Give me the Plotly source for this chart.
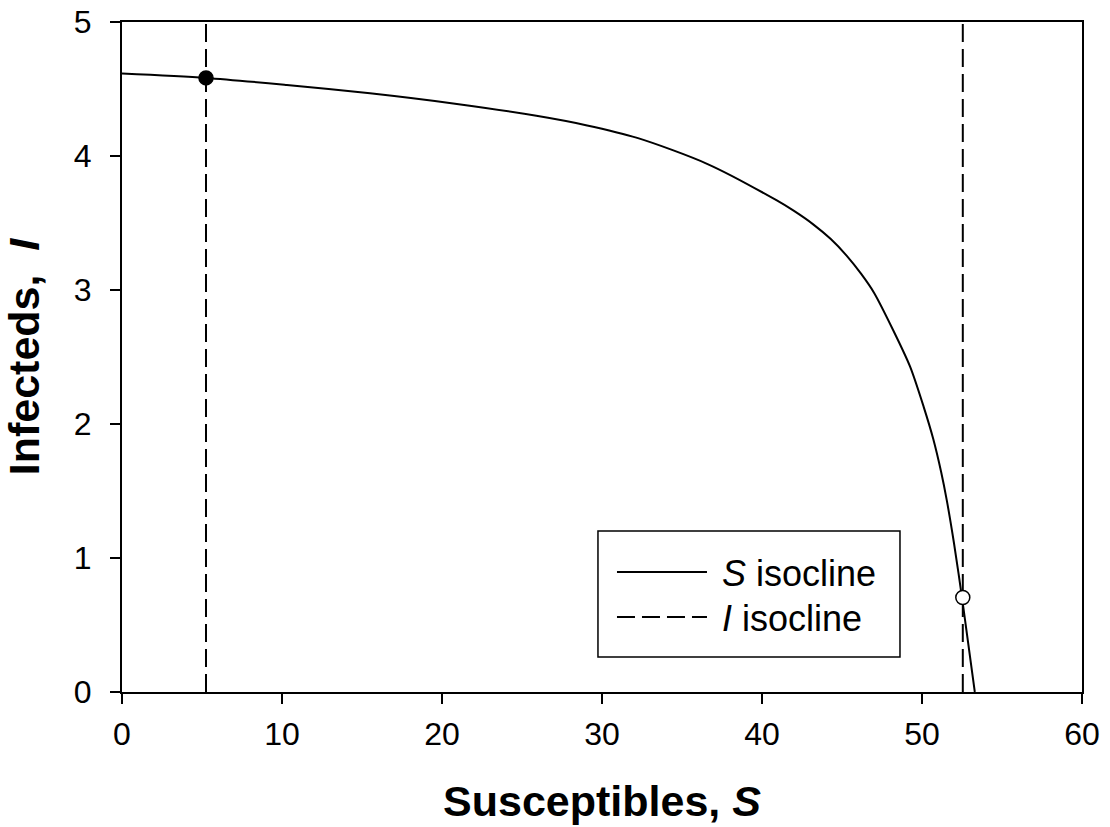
import plotly.graph_objects as go

# S isocline
s_iso_S = [0, 5.25, 10.3, 15.5, 20.7, 25.9, 29.0, 32.2, 36.6, 40.9, 42.0, 43.2, 44.3, 45.3, 46.2,
           47.0, 48.2, 49.25, 50.1, 50.7, 51.2, 51.55, 52.0, 52.5, 53.3]
s_iso_I = [4.616, 4.583, 4.53, 4.468, 4.392, 4.30, 4.23, 4.135, 3.94, 3.67, 3.59, 3.49, 3.38, 3.255, 3.12,
           2.98, 2.70, 2.43, 2.13, 1.89, 1.64, 1.43, 1.11, 0.705, 0.0]

# I isocline positions (vertical lines)
i_iso_S = [5.25, 52.55]
i_range = [0, 5]

# equilibria
stable_S, stable_I = [5.25], [4.583]
unstable_S, unstable_I = [52.55], [0.705]

x_ticks = [0, 10, 20, 30, 40, 50, 60]
y_ticks = [0, 1, 2, 3, 4, 5]

FONT = "Liberation Sans, Arial, sans-serif"
NB = "\u00a0"

fig = go.Figure()
fig.add_trace(go.Scatter(x=s_iso_S, y=s_iso_I, mode="lines", name=NB + "<i>S</i> isocline",
                         legend="legend",
                         line=dict(color="black", width=2, shape="spline", smoothing=0.8)))
for k, s in enumerate(i_iso_S):
    fig.add_trace(go.Scatter(x=[s, s], y=i_range, mode="lines", name=NB + "<i>I</i> isocline",
                             showlegend=(k == 0), legend="legend2",
                             line=dict(color="black", width=2, dash="18px,7px")))
fig.add_trace(go.Scatter(x=stable_S, y=stable_I, mode="markers", showlegend=False, cliponaxis=False,
                         marker=dict(size=14, color="black", line=dict(color="black", width=1.5))))
fig.add_trace(go.Scatter(x=unstable_S, y=unstable_I, mode="markers", showlegend=False, cliponaxis=False,
                         marker=dict(size=14, color="white", line=dict(color="black", width=1.5))))

axis_common = dict(showline=True, linecolor="black", linewidth=2, mirror=True,
                   ticks="outside", ticklen=10, tickwidth=2, tickcolor="black",
                   showgrid=False, zeroline=False, automargin=False,
                   tickfont=dict(family=FONT, size=32, color="black"))

fig.update_xaxes(range=[0, 60], tickvals=x_ticks, ticklabelstandoff=3, **axis_common,
                 title=dict(text="Susceptibles, <i>S</i>", standoff=34,
                            font=dict(family=FONT, size=43, color="black", weight="bold")))
fig.update_yaxes(range=[0, 5], tickvals=y_ticks, ticklabelstandoff=12, **axis_common,
                 title=dict(text="Infecteds,  <i>I</i>", standoff=28,
                            font=dict(family=FONT, size=43, color="black", weight="bold")))

# legend frame (box drawn around the legend entries)
fig.add_shape(type="rect", xref="paper", yref="paper",
              x0=0.4958, x1=0.8104, y0=0.0522, y1=0.2403,
              line=dict(color="black", width=1.5), fillcolor="rgba(0,0,0,0)", layer="above")

leg_common = dict(xanchor="left", yanchor="middle", borderwidth=0, bgcolor="rgba(0,0,0,0)",
                  font=dict(family=FONT, size=36, color="black"), itemwidth=90)

fig.update_layout(
    width=1110, height=827,
    margin=dict(l=122, r=28, t=22, b=135),
    paper_bgcolor="white", plot_bgcolor="white",
    font=dict(family=FONT, color="black"),
    legend=dict(x=0.5104, y=0.1791, **leg_common),
    legend2=dict(x=0.5104, y=0.1119, **leg_common),
)

fig.write_html("out.html")
